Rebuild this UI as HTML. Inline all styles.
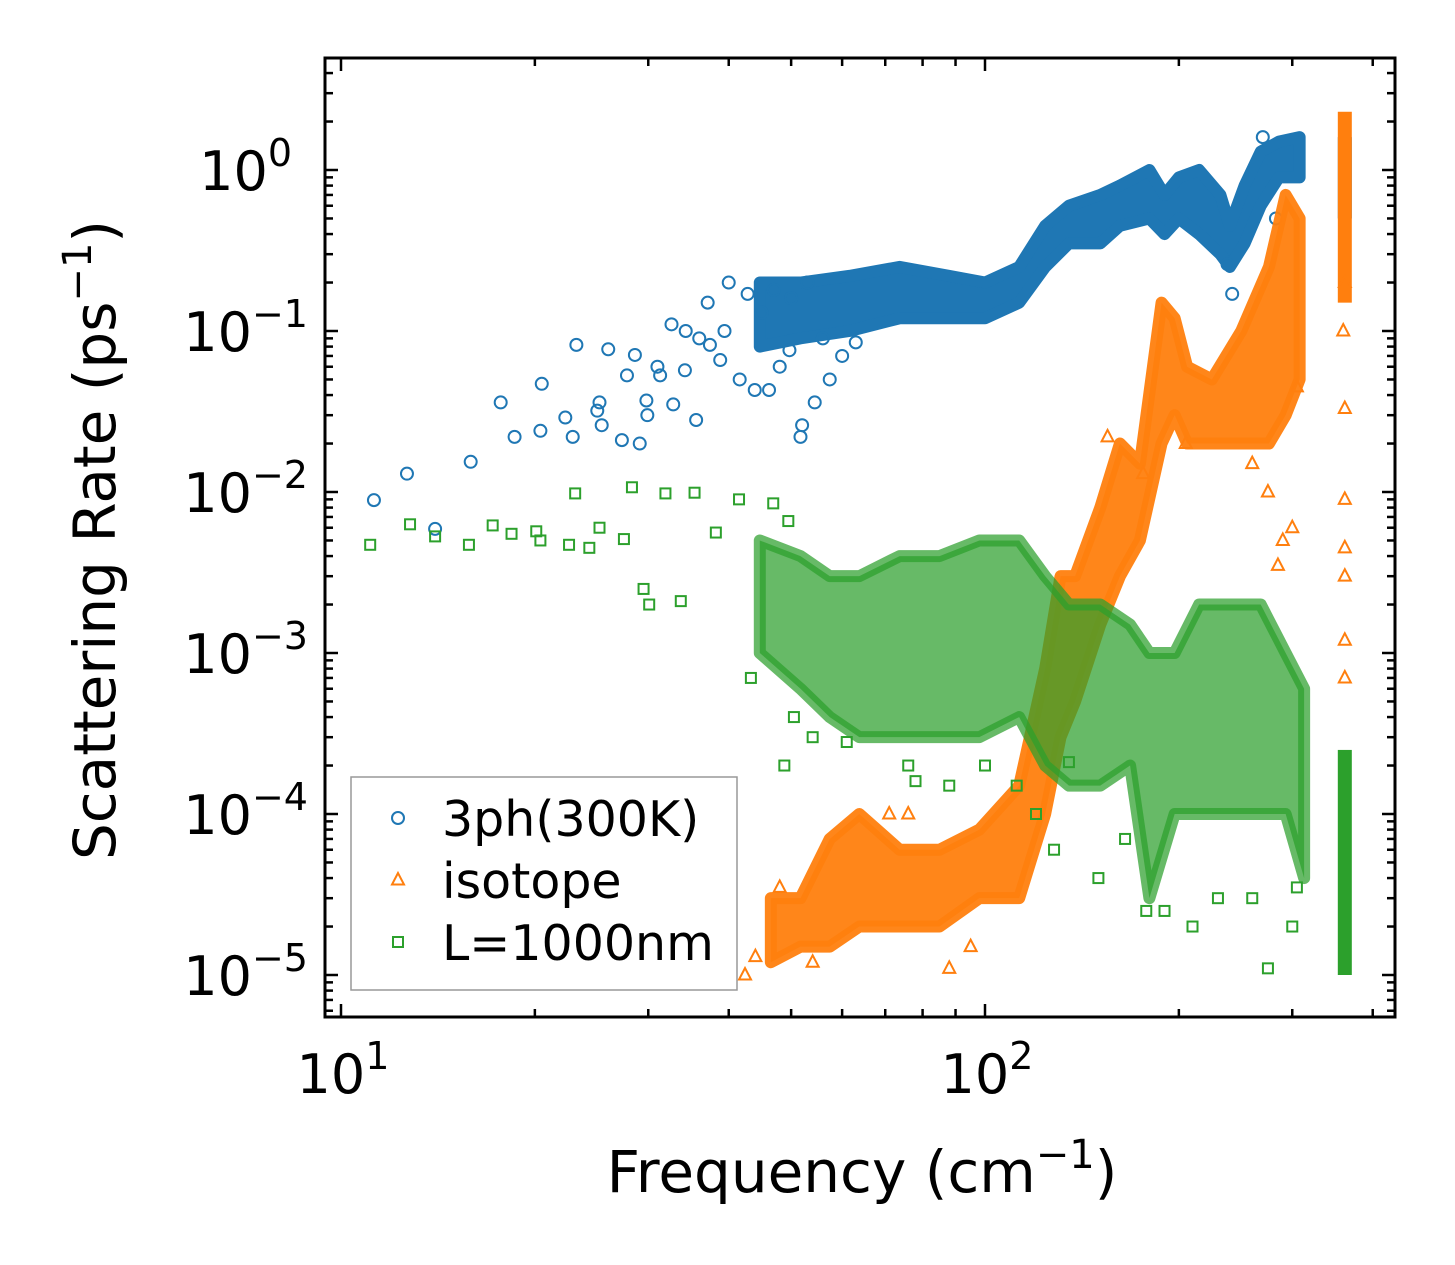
<!DOCTYPE html>
<html><head><meta charset="utf-8"><style>
html,body{margin:0;padding:0;background:#fff}
svg{display:block}
text{font-family:"DejaVu Sans","Liberation Sans",sans-serif;fill:#000}
</style></head><body>
<svg id="chart" width="1455" height="1265" viewBox="0 0 1455 1265" xmlns="http://www.w3.org/2000/svg">
<g id="plot"></g>
<g id="axes"></g>
</svg>
<script>
// ---- data (frequency cm^-1, rate ps^-1) ----
const blueScatter = [[11.25,0.0089],[12.66,0.013],[14.0,0.0059],[15.9,0.0154],[17.7,0.036],[18.6,0.022],[20.4,0.024],[20.5,0.047],[23.2,0.082],[22.3,0.029],[22.9,0.022],[25,0.032],[25.2,0.036],[25.4,0.026],[26,0.077],[27.3,0.021],[27.8,0.053],[29.1,0.020],[28.6,0.071],[29.8,0.037],[29.9,0.030],[31.3,0.053],[32.6,0.11],[32.8,0.035],[34.3,0.1],[34.2,0.057],[35.6,0.028],[37.1,0.15],[37.4,0.082],[38.8,0.066],[39.4,0.1],[40,0.2],[41.6,0.05],[42.8,0.17],[43.9,0.043],[46.2,0.043],[49.7,0.076],[52,0.026],[51.7,0.022],[57.4,0.05],[54.4,0.036],[45,0.13],[47,0.18],[50,0.16],[53,0.2],[56,0.09],[60,0.07],[63,0.085],[48,0.06],[36,0.09],[31,0.06],[242,0.17],[238,0.26],[283,0.5],[270,1.6]];
const blueBand = [[44.7,0.08,0.2],[51.7,0.09,0.2],[61.6,0.1,0.22],[73.7,0.12,0.25],[88,0.12,0.22],[100,0.12,0.2],[113,0.15,0.25],[124,0.25,0.45],[135,0.35,0.6],[151,0.35,0.7],[162,0.45,0.8],[180,0.5,1.0],[190,0.4,0.7],[200,0.5,0.9],[215,0.4,1.0],[232,0.3,0.7],[240,0.25,0.45],[253,0.35,0.8],[268,0.6,1.3],[286,0.9,1.5],[308,0.9,1.6]];
const blueColumn = [362,0.5,1.6];
const orangeScatter = [[42.4,1.0e-5],[44,1.3e-5],[48,3.5e-5],[54,1.2e-5],[71,1.0e-4],[76,1.0e-4],[88,1.1e-5],[95,1.5e-5],[155,0.022],[176,0.013],[205,0.02],[260,0.015],[275,0.01],[285,0.0035],[290,0.005],[300,0.006],[305,0.045],[362,0.033],[362,0.009],[362,0.0045],[362,0.003],[362,0.0012],[362,0.0007],[360,0.1],[362,0.2]];
const orangeBand = [[46.5,1.2e-5,3e-5],[51.7,1.5e-5,3e-5],[57.4,1.5e-5,7e-5],[63.8,2e-5,1e-4],[73.7,2e-5,6e-5],[85,2e-5,6e-5],[98,3e-5,8e-5],[113,3e-5,1.5e-4],[124,1e-4,8e-4],[131,3e-4,3e-3],[138,5e-4,3e-3],[151,1.5e-3,8e-3],[162,3e-3,2e-2],[174,5e-3,1.5e-2],[188,0.02,0.15],[197,0.03,0.12],[206,0.02,0.06],[225,0.02,0.05],[250,0.02,0.1],[276,0.02,0.25],[293,0.03,0.7],[308,0.05,0.5]];
const orangeColumn = [362,0.15,2.3];
const greenScatter = [[11.1,0.0047],[12.8,0.0063],[14.0,0.0053],[15.8,0.0047],[17.2,0.0062],[18.4,0.0055],[20.1,0.0057],[20.4,0.005],[22.6,0.0047],[23.1,0.0098],[24.3,0.0045],[25.2,0.006],[27.5,0.0051],[28.3,0.0107],[29.5,0.0025],[30.1,0.002],[31.9,0.0098],[33.7,0.0021],[35.4,0.0099],[38.2,0.0056],[41.5,0.009],[43.3,0.0007],[46.9,0.0085],[49.5,0.0066],[50.5,0.0004],[48.8,0.0002],[54,0.0003],[61,0.00028],[76,0.0002],[78,0.00016],[88,0.00015],[100,0.0002],[112,0.00015],[120,0.0001],[128,0.00006],[135,0.00021],[150,0.00004],[165,0.00007],[178,0.000025],[190,0.000025],[210,0.00002],[230,0.00003],[260,0.00003],[275,0.000011],[300,0.00002],[305,0.000035]];
const greenBand = [[44.7,1e-3,5e-3],[51.7,6e-4,4e-3],[57.4,4e-4,3e-3],[63.8,3e-4,3e-3],[73.7,3e-4,4e-3],[85,3e-4,4e-3],[98,3e-4,5e-3],[113,4e-4,5e-3],[124,2e-4,3e-3],[135,1.5e-4,2e-3],[151,1.5e-4,2e-3],[168,2e-4,1.5e-3],[180,3e-5,1e-3],[197,1e-4,1e-3],[215,1e-4,2e-3],[240,1e-4,2e-3],[268,1e-4,2e-3],[293,1e-4,1e-3],[313,4e-5,6e-4]];
const greenColumn = [362,1e-5,2.5e-4];
const xTickExp = [1,2];
const yTickExp = [0,-1,-2,-3,-4,-5];

// ---- axis functions ----
const L=325,R=1395,T=58,B=1017;
const X=f=>341+(Math.log10(f)-1)*644;
const Y=r=>170-Math.log10(r)*161;
const NS="http://www.w3.org/2000/svg";
const plot=document.getElementById('plot'), axes=document.getElementById('axes');
function el(tag,attrs,parent){const e=document.createElementNS(NS,tag);for(const k in attrs)e.setAttribute(k,attrs[k]);parent.appendChild(e);return e;}

const colors={blue:'#1f77b4',orange:'#ff7f0e',green:'#2ca02c'};
function marker(kind,cx,cy,parent){
  let m;
  if(kind==='blue') m=el('circle',{cx:cx,cy:cy,r:6,fill:'none',stroke:colors.blue,'stroke-width':2},parent);
  else if(kind==='orange') m=el('polygon',{points:`${cx},${cy-7} ${cx-6},${cy+4.5} ${cx+6},${cy+4.5}`,fill:'none',stroke:colors.orange,'stroke-width':2},parent);
  else m=el('rect',{x:cx-5,y:cy-5,width:10,height:10,fill:'none',stroke:colors.green,'stroke-width':2},parent);
  return m;
}
function drawSeries(kind,band,column,scatter,op){
  const g=el('g',{},plot);
  
  
  let pts=band.map(d=>`${X(d[0])},${Y(d[2])}`);
  pts=pts.concat(band.slice().reverse().map(d=>`${X(d[0])},${Y(d[1])}`));
  const poly=el('polygon',{points:pts.join(' '),fill:colors[kind],'fill-opacity':op,stroke:colors[kind],'stroke-width':12,'stroke-linejoin':'round','stroke-opacity':op},g);
  
  
  const c=el('rect',{x:X(column[0])-7,y:Y(column[2]),width:14,height:Y(column[1])-Y(column[2]),fill:colors[kind]},g);
  
  
  scatter.forEach(d=>{const m=marker(kind,X(d[0]),Y(d[1]),g);
    
    });
}
drawSeries('blue',blueBand,blueColumn,blueScatter,1);
drawSeries('orange',orangeBand,orangeColumn,orangeScatter,0.95);
drawSeries('green',greenBand,greenColumn,greenScatter,0.72);

// ---- frame & ticks ----
const frame=el('rect',{x:L,y:T,width:R-L,height:B-T,fill:'none',stroke:'#000','stroke-width':3},axes);


function tick(x1,y1,x2,y2){el('line',{x1:x1,y1:y1,x2:x2,y2:y2,stroke:'#000','stroke-width':2.5},axes);}
for(let d=0;d<3;d++)for(let m=1;m<=9;m++){
  const f=m*Math.pow(10,d); const x=X(f);
  if(x<L+1||x>R-1)continue;
  const len=m===1?13:8; tick(x,B,x,B-len); tick(x,T,x,T+len);
}
for(let d=-6;d<=1;d++)for(let m=1;m<=9;m++){
  const r=m*Math.pow(10,d); const y=Y(r);
  if(y<T+1||y>B-1)continue;
  const len=m===1?13:8; tick(L,y,L+len,y); tick(R,y,R-len,y);
}
xTickExp.forEach(e=>{
  const t=el('text',{x:X(Math.pow(10,e))+2,y:1093,'font-size':54,'text-anchor':'middle'},axes);
  
  
  t.innerHTML=`10<tspan dy="-24" font-size="38">${e}</tspan>`;
});
yTickExp.forEach(e=>{
  const t=el('text',{x:e===0?292:308,y:Y(Math.pow(10,e))+20,'font-size':54,'text-anchor':'end'},axes);
  
  
  t.innerHTML=`10<tspan dy="-24" font-size="38">${e===0?'0':'\u2212'+(-e)}</tspan>`;
});
</script>
<svg style="position:absolute;left:0;top:0" width="1455" height="1265">
<text x="862" y="1192" font-size="58" text-anchor="middle">Frequency (cm<tspan dy="-24" font-size="40">−1</tspan><tspan dy="24">)</tspan></text>
<text transform="translate(115,540) rotate(-90)" font-size="58" text-anchor="middle">Scattering Rate (ps<tspan dy="-24" font-size="40">−1</tspan><tspan dy="24">)</tspan></text>
<g>
<rect x="351" y="777" width="386" height="213" fill="#fff" fill-opacity="0.85" stroke="#999" stroke-width="1.5"/>
<g><circle cx="398" cy="818" r="6" fill="none" stroke="#1f77b4" stroke-width="2"/><text x="442" y="836" font-size="49">3ph(300K)</text></g>
<g><polygon points="398,873 392,884.5 404,884.5" fill="none" stroke="#ff7f0e" stroke-width="2"/><text x="442" y="898" font-size="49">isotope</text></g>
<g><rect x="393" y="937" width="10" height="10" fill="none" stroke="#2ca02c" stroke-width="2"/><text x="442" y="960" font-size="49">L=1000nm</text></g>
</g>
</svg>
</body></html>
